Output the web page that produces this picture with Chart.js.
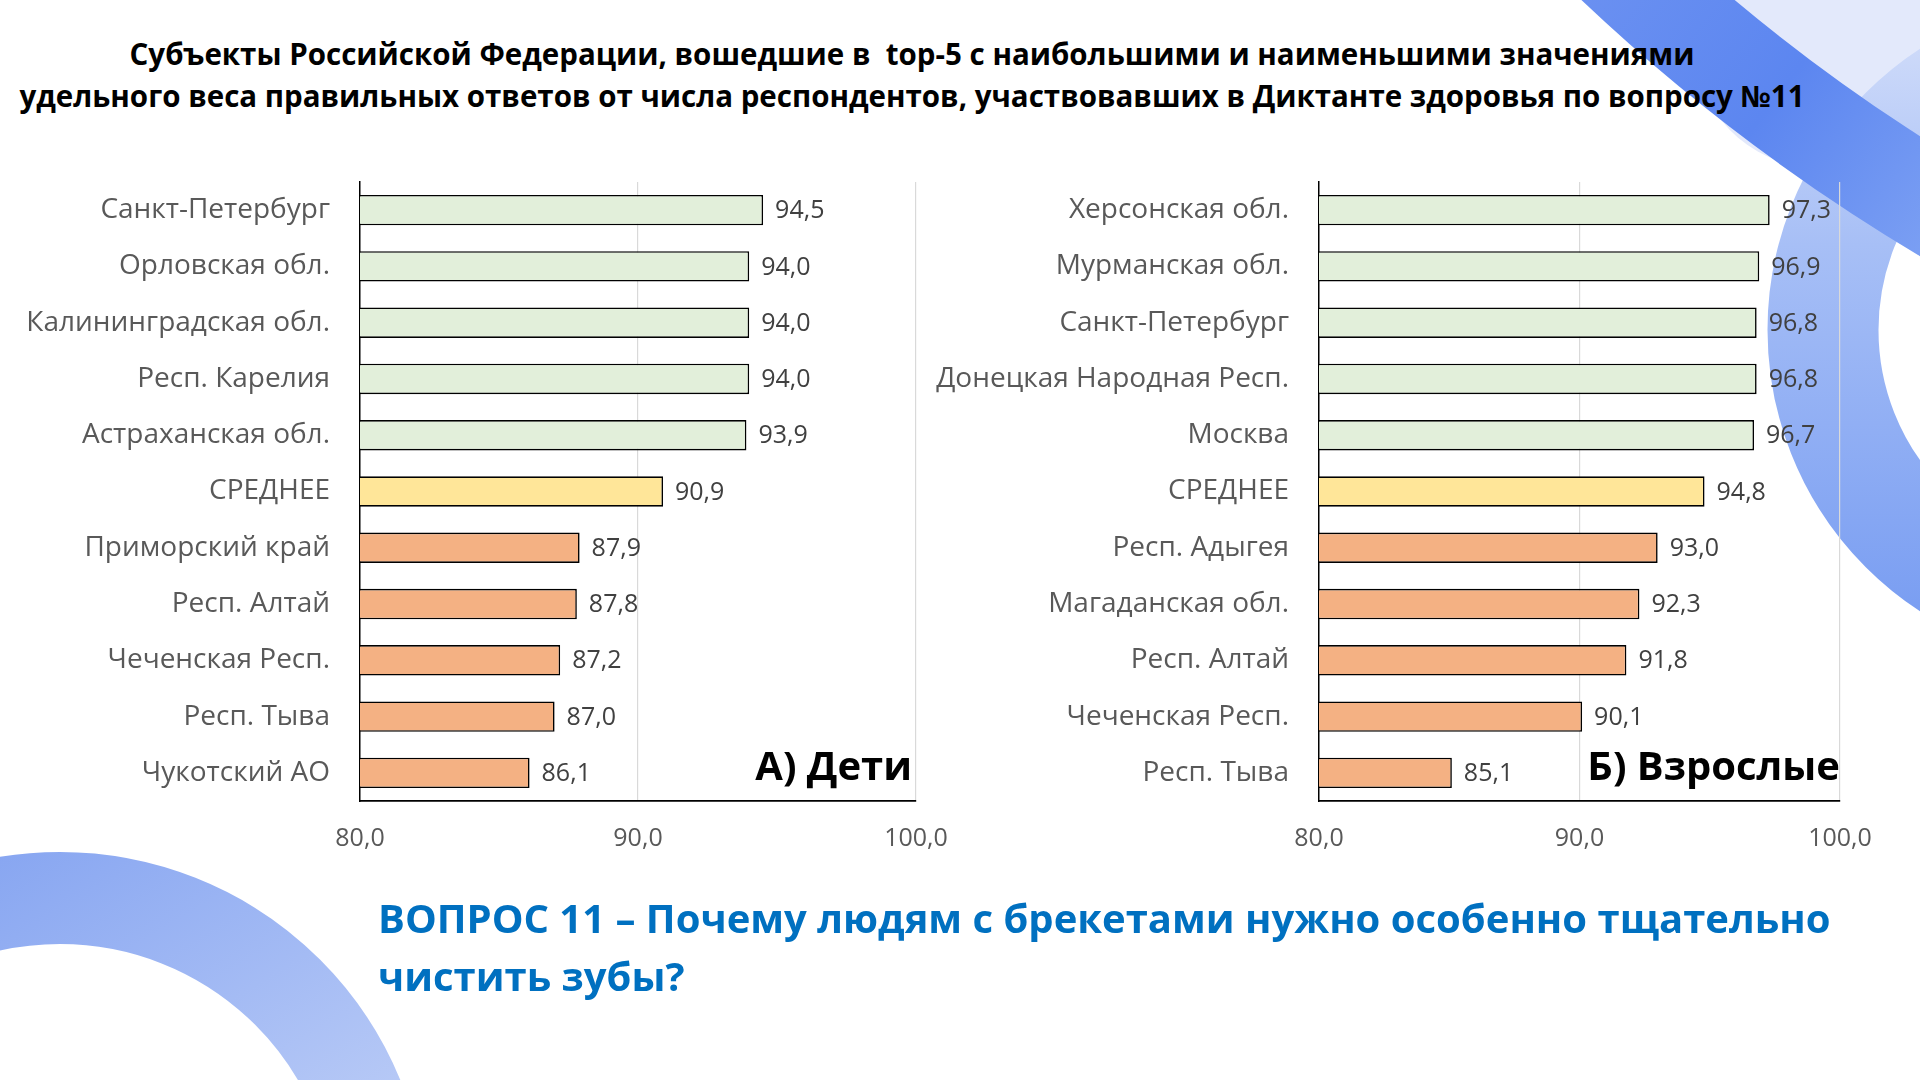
<!DOCTYPE html>
<html lang="ru">
<head>
<meta charset="utf-8">
<script src="https://cdn.jsdelivr.net/npm/chart.js@4.4.1/dist/chart.umd.min.js"></script>
<style>
    html, body { margin: 0; padding: 0; }
    body {
        width: 1920px; height: 1080px; position: relative; overflow: hidden;
        background: #fff; font-family: "Open Sans", sans-serif;
    }
    #deco { position: absolute; left: 0; top: 0; }
    .box { position: absolute; }
    #title {
        position: absolute; left: 0; width: 1824px; top: 33px;
        text-align: center; font-weight: 700; font-size: 29.5px; line-height: 42px; color: #000;
        white-space: nowrap;
    }
    #question {
        position: absolute; left: 378px; top: 889px;
        font-weight: 700; font-size: 40px; line-height: 58px; color: #0070C0;
        white-space: nowrap;
    }
    .panel {
        position: absolute; top: 740px; font-weight: 700; font-size: 40px;
        line-height: 50px; color: #000; white-space: nowrap;
    }
</style>
</head>
<body>
<svg id="deco" width="1920" height="1080">
    <defs>
        <linearGradient id="gBL" x1="0" y1="0" x2="0.6" y2="1">
            <stop offset="0" stop-color="#7d9ef0"/>
            <stop offset="1" stop-color="#d3def9"/>
        </linearGradient>
        <linearGradient id="gTR1" x1="1583" y1="0" x2="1920" y2="260" gradientUnits="userSpaceOnUse">
            <stop offset="0" stop-color="#6a90f1"/>
            <stop offset="0.5" stop-color="#5c86f0"/>
            <stop offset="1" stop-color="#7b9ff3"/>
        </linearGradient>
        <linearGradient id="gTR2" x1="0" y1="0" x2="0" y2="700" gradientUnits="userSpaceOnUse">
            <stop offset="0" stop-color="#d6e0fa"/>
            <stop offset="0.35" stop-color="#a7bff6"/>
            <stop offset="1" stop-color="#6f96f1"/>
        </linearGradient>
    </defs>
    <ellipse cx="1830" cy="60" rx="130" ry="110" fill="#e3e9fb"/>
    <circle cx="2103" cy="330" r="280" fill="none" stroke="url(#gTR2)" stroke-width="111"/>
    <circle cx="2907" cy="-1400" r="1877" fill="none" stroke="url(#gTR1)" stroke-width="102"/>
    <circle cx="60" cy="1220" r="322" fill="none" stroke="url(#gBL)" stroke-width="92"/>
</svg>

<div id="title">Субъекты Российской Федерации, вошедшие в&nbsp; top-5 с наибольшими и наименьшими значениями<br>удельного веса правильных ответов от числа респондентов, участвовавших в Диктанте здоровья по вопросу №11</div>

<div class="box" style="left:0;top:150px;width:960px;height:740px"><canvas id="chartKids"></canvas></div>
<div class="box" style="left:930px;top:150px;width:990px;height:740px"><canvas id="chartAdults"></canvas></div>

<div class="panel" style="right:1008px">А) Дети</div>
<div class="panel" style="right:80px">Б) Взрослые</div>

<div id="question">ВОПРОС 11 – Почему людям с брекетами нужно особенно тщательно<br>чистить зубы?</div>

<script>
const kidsLabels = ['Санкт-Петербург', 'Орловская обл.', 'Калининградская обл.', 'Респ. Карелия', 'Астраханская обл.',
    'СРЕДНЕЕ', 'Приморский край', 'Респ. Алтай', 'Чеченская Респ.', 'Респ. Тыва', 'Чукотский АО'];
const kidsValues = [94.5, 94.0, 94.0, 94.0, 93.9, 90.9, 87.9, 87.8, 87.2, 87.0, 86.1];

const adultLabels = ['Херсонская обл.', 'Мурманская обл.', 'Санкт-Петербург', 'Донецкая Народная Респ.', 'Москва',
    'СРЕДНЕЕ', 'Респ. Адыгея', 'Магаданская обл.', 'Респ. Алтай', 'Чеченская Респ.', 'Респ. Тыва'];
const adultValues = [97.3, 96.9, 96.8, 96.8, 96.7, 94.8, 93.0, 92.3, 91.8, 90.1, 85.1];

const axisMin = 80;
const axisMax = 100;
const axisStep = 10;

// top-5 green, average yellow, bottom-5 orange
function barColor(i) {
    if (i < 5) return '#E2EFDA';
    if (i === 5) return '#FFE699';
    return '#F4B183';
}

function fmt(v) {
    return v.toFixed(1).replace('.', ',');
}

const valueLabels = {
    id: 'valueLabels',
    afterDatasetsDraw(chart) {
        const ctx = chart.ctx;
        const meta = chart.getDatasetMeta(0);
        ctx.save();
        ctx.font = '25px "Open Sans"';
        ctx.fillStyle = '#404040';
        ctx.textAlign = 'left';
        ctx.textBaseline = 'middle';
        meta.data.forEach((bar, i) => {
            ctx.fillText(fmt(chart.data.datasets[0].data[i]), bar.x + 12, bar.y + 1);
        });
        ctx.restore();
    }
};

function makeChart(canvasId, labels, values, yWidth, padRight) {
    const ctx = document.getElementById(canvasId).getContext('2d');
    return new Chart(ctx, {
        type: 'bar',
        data: {
            labels: labels,
            datasets: [{
                data: values,
                backgroundColor: labels.map((_, i) => barColor(i)),
                borderColor: '#000',
                borderWidth: 1.6,
                borderSkipped: false,
                barPercentage: 0.54,
                categoryPercentage: 1
            }]
        },
        options: {
            indexAxis: 'y',
            responsive: true,
            maintainAspectRatio: false,
            animation: false,
            layout: { padding: { top: 32, right: padRight, left: 0, bottom: 0 } },
            plugins: { legend: { display: false }, tooltip: { enabled: false } },
            scales: {
                x: {
                    min: axisMin,
                    max: axisMax,
                    afterFit: s => { s.height = 89; s.paddingLeft = 0; s.paddingRight = 0; },
                    ticks: {
                        stepSize: axisStep,
                        padding: 23,
                        color: '#595959',
                        font: { family: 'Open Sans', size: 25 },
                        callback: v => fmt(v)
                    },
                    grid: {
                        drawTicks: false,
                        lineWidth: 1.2,
                        color: c => (c.tick && c.tick.value === axisMin) ? 'rgba(0,0,0,0)' : '#d9d9d9'
                    },
                    border: { display: true, color: '#000', width: 1.8 }
                },
                y: {
                    afterFit: s => { s.width = yWidth; s.paddingTop = 0; s.paddingBottom = 0; },
                    ticks: {
                        padding: 30,
                        color: '#595959',
                        font: { family: 'Open Sans', size: 28 }
                    },
                    grid: { display: false, drawTicks: false },
                    border: { display: true, color: '#000', width: 1.5 }
                }
            }
        },
        plugins: [valueLabels]
    });
}

document.fonts.load('28px "Open Sans"').then(() => {
    makeChart('chartKids', kidsLabels, kidsValues, 360, 44);
    makeChart('chartAdults', adultLabels, adultValues, 389, 80);
});
</script>
</body>
</html>
